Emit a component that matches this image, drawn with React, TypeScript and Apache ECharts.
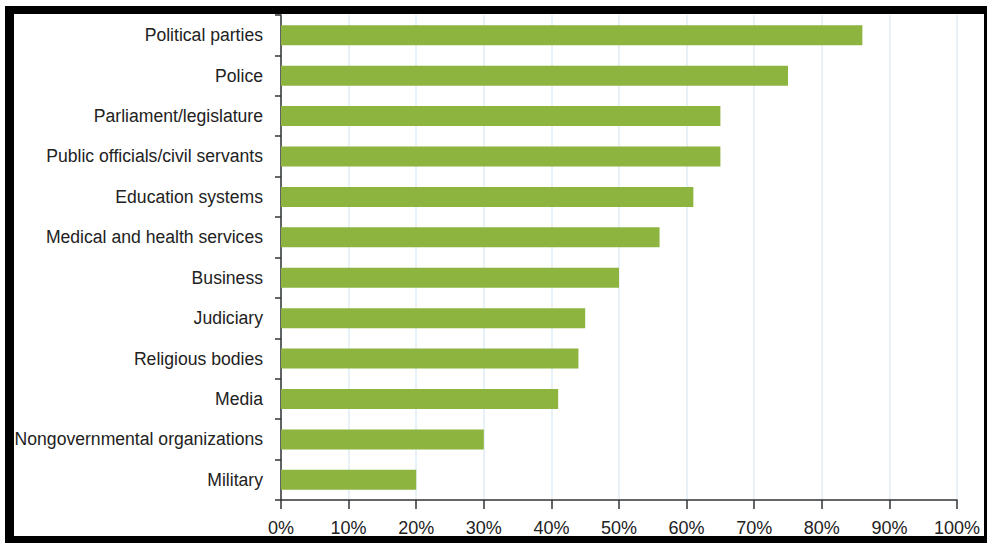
import React, { useEffect, useRef } from "react";
import * as echarts from "echarts";

const categories = [
  "Military",
  "Nongovernmental organizations",
  "Media",
  "Religious bodies",
  "Judiciary",
  "Business",
  "Medical and health services",
  "Education systems",
  "Public officials/civil servants",
  "Parliament/legislature",
  "Police",
  "Political parties",
];
const values = [20, 30, 41, 44, 45, 50, 56, 61, 65, 65, 75, 86];

const FONT = "'Liberation Sans Narrow', 'Arial Narrow', 'Liberation Sans', Arial, sans-serif";

export default function App() {
  const ref = useRef<HTMLDivElement>(null);
  useEffect(() => {
    if (!ref.current) return;
    const chart = echarts.init(ref.current, undefined, { renderer: "svg" });
    chart.setOption({
      animation: false,
      backgroundColor: "#ffffff",
      grid: {
        left: 281,
        top: 15,
        right: 30,
        bottom: 43,
        containLabel: false,
        outerBoundsMode: "none",
      },
      xAxis: {
        type: "value",
        min: 0,
        max: 100,
        interval: 10,
        axisLine: { show: true, lineStyle: { color: "#333333", width: 1.5 } },
        axisTick: { show: true, length: 9, lineStyle: { color: "#333333", width: 1.5 } },
        axisLabel: {
          formatter: "{value}%",
          color: "#222222",
          fontFamily: FONT,
          fontSize: 18,
          margin: 19,
        },
        splitLine: { show: true, lineStyle: { color: "#e0edf4", width: 1.5 } },
      },
      yAxis: {
        type: "category",
        data: categories,
        axisLine: { show: true, lineStyle: { color: "#333333", width: 1.5 } },
        axisTick: { show: true, length: 6, lineStyle: { color: "#333333", width: 1.5 } },
        axisLabel: {
          color: "#222222",
          fontFamily: FONT,
          fontSize: 17.6,
          margin: 18,
        },
        splitLine: { show: false },
      },
      series: [
        {
          type: "bar",
          data: values,
          barWidth: 20,
          itemStyle: { color: "#8cb43f" },
        },
      ],
    });
    return () => chart.dispose();
  }, []);
  return (
    <div style={{ position: "fixed", left: 0, top: 0, width: 987, height: 543, background: "#fff" }}>
      <div ref={ref} style={{ position: "absolute", left: 0, top: 0, width: 987, height: 543 }} />
      <div
        style={{
          position: "absolute",
          left: 5,
          top: 6,
          width: 987 - 5,
          height: 543 - 6,
          boxSizing: "border-box",
          borderLeft: "9px solid #000",
          borderTop: "8px solid #000",
          borderRight: "3px solid #000",
          borderBottom: "7px solid #000",
          pointerEvents: "none",
        }}
      />
    </div>
  );
}
